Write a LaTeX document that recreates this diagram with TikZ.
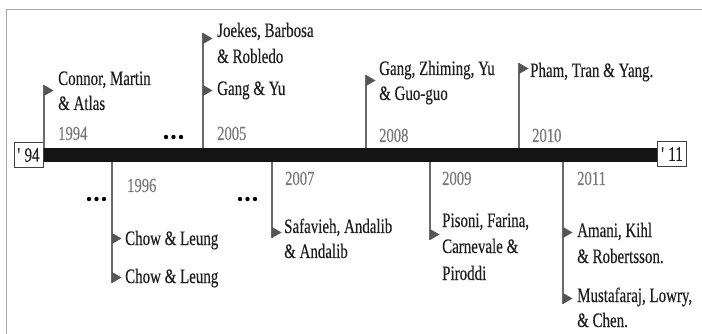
\documentclass[tikz,border=0pt]{standalone}
\usepackage{fontspec}
\setmainfont[FakeStretch=0.73,FakeBold=0.3]{Liberation Serif}
\definecolor{txt}{HTML}{1E1E1E}
\definecolor{yrc}{HTML}{777777}
\definecolor{polec}{HTML}{6A6A6A}
\definecolor{tric}{HTML}{555555}
\definecolor{framec}{HTML}{AAAAAA}
\tikzset{
  lbl/.style={anchor=base west,inner sep=0pt,text=txt,font=\fontsize{20.5}{24}\selectfont},
  yr/.style={anchor=base west,inner sep=0pt,text=yrc,font=\fontsize{20}{24}\selectfont},
  pole/.style={draw=polec,line width=1.4pt},
  flagtri/.style={fill=tric},
  endbox/.style={draw=black!75,line width=1pt,fill=white,minimum width=29pt,minimum height=25pt,inner sep=0pt,text=txt,font=\fontsize{20.5}{24}\selectfont},
  dotc/.style={fill=black}
}
\newcommand{\flag}[2]{\fill[flagtri] (#1,#2) -- (#1,#2+11) -- (#1+9.5,#2+5.5) -- cycle;}
\begin{document}
\begin{tikzpicture}[x=1pt,y=-1pt]
\useasboundingbox (0,0) rectangle (702,334);
% frame
\draw[framec,line width=1.5pt] (6.5,334) -- (6.5,9.5) -- (702,9.5);
% bar
\fill[black!92] (43,148) rectangle (657,162);
\node[endbox] (b94) at (28.5,155) {\textquotesingle\,94};
\node[endbox] (b11) at (672,154) {\textquotesingle\,11};
% ---------- upper flags ----------
% 1994
\coordinate (p94t) at (44,85); \coordinate (p94b) at (44,148);
\draw[pole] (p94t) -- (p94b); \flag{44}{85}
\node[lbl] (t94a) at (58,85) {Connor, Martin};
\node[lbl] (t94b) at (58,110) {\& Atlas};
\node[yr] (y94) at (58,140) {1994};
% 2005
\coordinate (p05t) at (203,33); \coordinate (p05b) at (203,148);
\draw[pole] (p05t) -- (p05b); \flag{203}{33} \flag{203}{85}
\node[lbl] (t05a) at (217,37) {Joekes, Barbosa};
\node[lbl] (t05b) at (217,63) {\& Robledo};
\node[lbl] (t05c) at (217,95) {Gang \& Yu};
\node[yr] (y05) at (217,140) {2005};
% 2008
\coordinate (p08t) at (366,75); \coordinate (p08b) at (366,148);
\draw[pole] (p08t) -- (p08b); \flag{366}{75}
\node[lbl] (t08a) at (379,75) {Gang, Zhiming, Yu};
\node[lbl] (t08b) at (379,100) {\& Guo-guo};
\node[yr] (y08) at (379,142) {2008};
% 2010
\coordinate (p10t) at (519,63); \coordinate (p10b) at (519,148);
\draw[pole] (p10t) -- (p10b); \flag{519}{63}
\node[lbl] (t10a) at (530,77) {Pham, Tran \& Yang.};
\node[yr] (y10) at (532,142) {2010};
% ---------- lower flags ----------
% 1996
\coordinate (p96t) at (112,162); \coordinate (p96b) at (112,283);
\draw[pole] (p96t) -- (p96b); \flag{112}{233} \flag{112}{272}
\node[yr] (y96) at (127,192) {1996};
\node[lbl] (t96a) at (125,245) {Chow \& Leung};
\node[lbl] (t96b) at (125,283) {Chow \& Leung};
% 2007
\coordinate (p07t) at (272,162); \coordinate (p07b) at (272,238);
\draw[pole] (p07t) -- (p07b); \flag{272}{227}
\node[yr] (y07) at (285,185) {2007};
\node[lbl] (t07a) at (284,233) {Safavieh, Andalib};
\node[lbl] (t07b) at (284,258) {\& Andalib};
% 2009
\coordinate (p09t) at (430,162); \coordinate (p09b) at (430,240);
\draw[pole] (p09t) -- (p09b); \flag{430}{229}
\node[yr] (y09) at (442,185) {2009};
\node[lbl] (t09a) at (442,227) {Pisoni, Farina,};
\node[lbl] (t09b) at (442,253) {Carnevale \&};
\node[lbl] (t09c) at (442,280) {Piroddi};
% 2011
\coordinate (p11t) at (563,162); \coordinate (p11b) at (563,304);
\draw[pole] (p11t) -- (p11b); \flag{563}{227} \flag{563}{293}
\node[yr] (y11) at (577,185) {2011};
\node[lbl] (t11a) at (577,237) {Amani, Kihl};
\node[lbl] (t11b) at (577,263) {\& Robertsson.};
\node[lbl] (t11c) at (577,302) {Mustafaraj, Lowry,};
\node[lbl] (t11d) at (577,327) {\& Chen.};
% ellipses
\foreach \x in {166,173.5,181} \fill[dotc] (\x,137) circle (2.2);
\foreach \x in {89,96.5,104} \fill[dotc] (\x,199) circle (2.2);
\foreach \x in {240,247.5,255} \fill[dotc] (\x,199) circle (2.2);
\end{tikzpicture}
\end{document}
